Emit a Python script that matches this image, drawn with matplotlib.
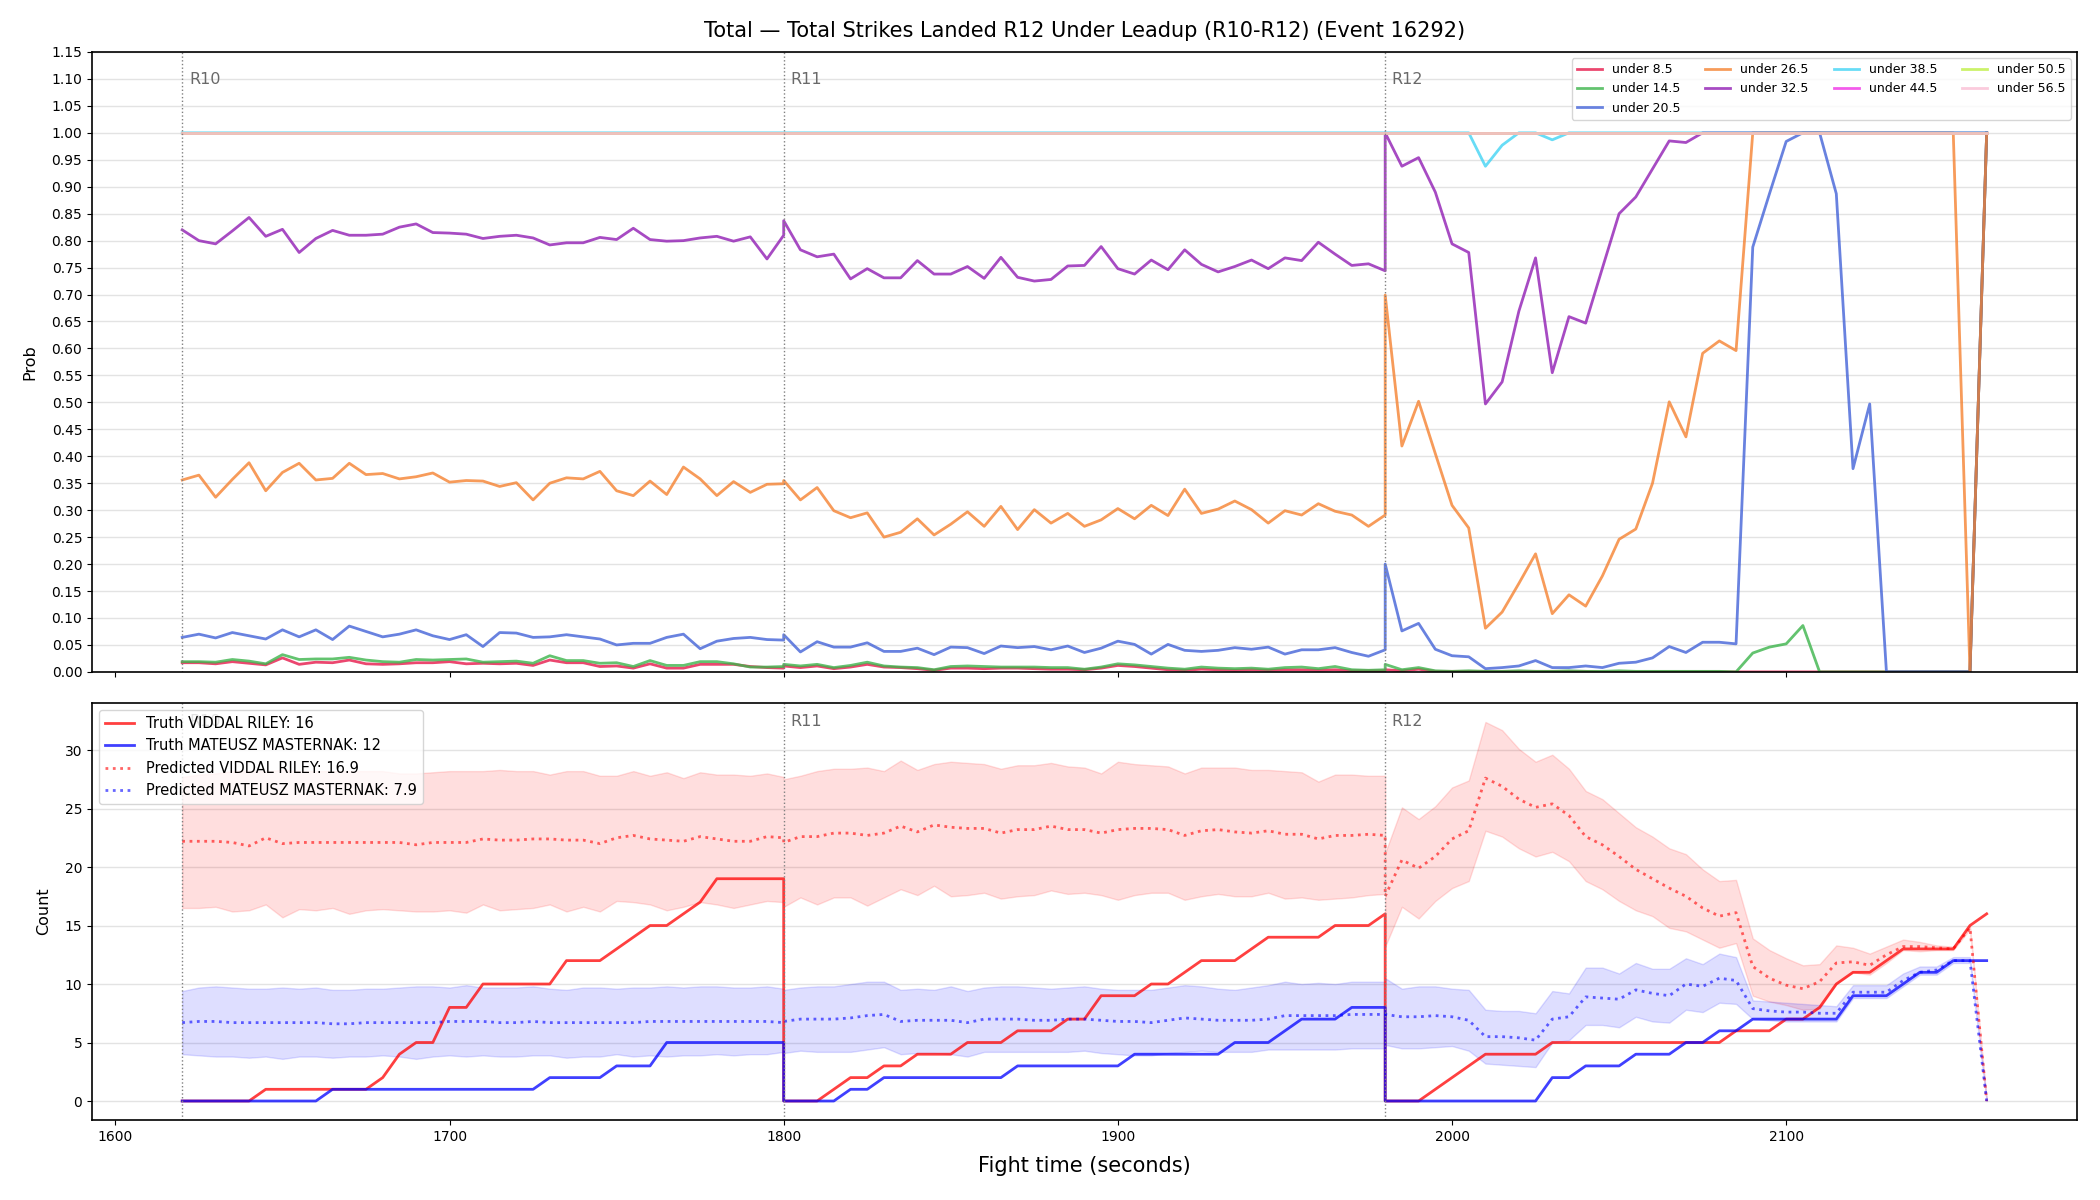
import numpy as np
import matplotlib.pyplot as plt
from matplotlib.transforms import blended_transform_factory

# rounds shown in the leadup window (5 s sampling, boundary time repeated)
round_names = ['R10', 'R11', 'R12']
round_starts = [1620, 1800, 1980]
round_len = 180
step = 5

# ---- top panel: P(total strikes under line) ----
under_8_5 = [
    .017, .017, .015, .019, .016, .013, .026, .014, .018, .017, .022, .015, .014, .015, .017, .017, .019, .015,
    .016, .015, .016, .012, .022, .017, .017, .010, .011, .007, .015, .007, .007, .014, .014, .014, .010, .008, .007,
    .011, .008, .011, .006, .009, .014, .009, .008, .006, .003, .007, .007, .006, .007, .007, .006, .005, .005,
    .004, .007, .012, .010, .007, .004, .003, .005, .004, .003, .004, .003, .004, .004, .003, .004, .002, .002, .002,
    .004, .002, .005, .001, .001, .001, .001, .001, .001, .001, .001, .001, .001, 0, 0, 0, 0, 0,
    0, 0, 0, 0, 0, 0, 0, 0, 0, 0, 0, 0, 0, 0, 0, 0, 0, 0, 1.0,
]
under_14_5 = [
    .019, .019, .018, .023, .020, .015, .032, .023, .024, .024, .027, .022, .019, .018, .023, .022, .023, .024,
    .018, .019, .020, .016, .030, .021, .021, .016, .017, .010, .021, .012, .012, .019, .019, .015, .009, .009, .010,
    .014, .011, .014, .008, .012, .018, .011, .009, .008, .004, .010, .011, .010, .009, .009, .009, .008, .008,
    .005, .009, .015, .013, .010, .007, .005, .009, .007, .006, .007, .005, .008, .009, .006, .010, .004, .003, .004,
    .014, .004, .008, .002, .001, .002, .001, .001, .002, .001, .001, .002, .001, .001, .002, .001, .001, .001,
    .001, .001, .001, 0, .035, .046, .052, .086, 0, 0, 0, 0, 0, 0, 0, 0, 0, 0, 1.0,
]
under_20_5 = [
    .064, .070, .063, .073, .067, .061, .078, .065, .078, .060, .085, .075, .065, .070, .078, .067, .060, .069,
    .047, .073, .072, .064, .065, .069, .065, .061, .050, .053, .053, .064, .070, .043, .057, .062, .064, .060, .059,
    .069, .037, .056, .046, .046, .054, .038, .038, .044, .032, .046, .045, .034, .048, .045, .047, .041, .048,
    .036, .044, .057, .051, .033, .051, .040, .038, .040, .045, .042, .046, .033, .041, .041, .045, .036, .029, .041,
    .200, .076, .090, .042, .030, .028, .006, .008, .011, .021, .008, .008, .011, .008, .016, .018, .026, .047,
    .036, .055, .055, .052, .788, .887, .984, 1.0, 1.0, .887, .377, .497, 0, 0, 0, 0, 0, 0, 1.0,
]
under_26_5 = [
    .356, .365, .324, .357, .388, .336, .370, .387, .356, .359, .387, .366, .368, .358, .362, .369, .352, .355,
    .354, .344, .351, .319, .350, .360, .358, .372, .336, .327, .354, .329, .380, .358, .327, .353, .333, .348, .349,
    .355, .319, .342, .299, .286, .295, .250, .259, .284, .254, .274, .297, .270, .307, .264, .301, .276, .294,
    .270, .282, .303, .284, .309, .290, .339, .294, .302, .317, .301, .276, .299, .291, .312, .298, .291, .270, .291,
    .699, .419, .502, .405, .309, .267, .081, .111, .164, .219, .108, .143, .122, .178, .246, .265, .350, .501,
    .436, .591, .614, .596, 1.0, 1.0, 1.0, 1.0, 1.0, 1.0, 1.0, 1.0, 1.0, 1.0, 1.0, 1.0, 1.0, 0.0, 1.0,
]
under_32_5 = [
    .820, .800, .794, .818, .843, .808, .821, .778, .804, .819, .810, .810, .812, .825, .831, .815, .814, .812,
    .804, .808, .810, .805, .792, .796, .796, .806, .802, .823, .802, .799, .800, .805, .808, .799, .807, .766, .810,
    .837, .783, .770, .775, .729, .748, .731, .731, .763, .738, .738, .752, .730, .769, .732, .725, .728, .753,
    .754, .789, .748, .738, .764, .746, .783, .756, .742, .752, .764, .748, .768, .763, .797, .775, .754, .757, .744,
    1.0, .938, .954, .890, .794, .778, .497, .538, .669, .768, .555, .659, .647, .749, .850, .881, .933, .985,
    .982, 1.0, 1.0, 1.0, 1.0, 1.0, 1.0, 1.0, 1.0, 1.0, 1.0, 1.0, 1.0, 1.0, 1.0, 1.0, 1.0, 1.0, 1.0,
]
under_38_5 = (
    [1.0] * 37 + [1.0] * 37
    + [1.0, 1.0, 1.0, 1.0, 1.0, 1.0, .938, .977, 1.0, 1.0, .987] + [1.0] * 26
)
under_44_5 = [1.0] * 111
under_50_5 = [1.0] * 111
under_56_5 = [1.0] * 111

prob_labels = ['under 8.5', 'under 14.5', 'under 20.5', 'under 26.5', 'under 32.5',
               'under 38.5', 'under 44.5', 'under 50.5', 'under 56.5']
prob_series = [under_8_5, under_14_5, under_20_5, under_26_5, under_32_5,
               under_38_5, under_44_5, under_50_5, under_56_5]
prob_colors = ['#e6194b', '#3cb44b', '#4363d8', '#f58231', '#911eb4',
               '#42d4f4', '#f032e6', '#bfef45', '#fabed4']

# ---- bottom panel: counts ----
fighter_a = 'VIDDAL RILEY'
fighter_b = 'MATEUSZ MASTERNAK'
final_truth_a, final_truth_b = 16, 12
final_pred_a, final_pred_b = 16.9, 7.9

truth_a = [
    0, 0, 0, 0, 0, 1, 1, 1, 1, 1, 1, 1, 2, 4, 5, 5, 8, 8, 10, 10, 10, 10, 10, 12, 12, 12, 13, 14, 15, 15, 16, 17,
    19, 19, 19, 19, 19,
    0, 0, 0, 1, 2, 2, 3, 3, 4, 4, 4, 5, 5, 5, 6, 6, 6, 7, 7, 9, 9, 9, 10, 10, 11, 12, 12, 12, 13, 14, 14, 14, 14,
    15, 15, 15, 16,
    0, 0, 0, 1, 2, 3, 4, 4, 4, 4, 5, 5, 5, 5, 5, 5, 5, 5, 5, 5, 5, 6, 6, 6, 7, 7, 8, 10, 11, 11, 12, 13, 13, 13,
    13, 15, 16,
]
truth_b = [
    0, 0, 0, 0, 0, 0, 0, 0, 0, 1, 1, 1, 1, 1, 1, 1, 1, 1, 1, 1, 1, 1, 2, 2, 2, 2, 3, 3, 3, 5, 5, 5, 5, 5, 5, 5, 5,
    0, 0, 0, 0, 1, 1, 2, 2, 2, 2, 2, 2, 2, 2, 3, 3, 3, 3, 3, 3, 3, 4, 4, 4, 4, 4, 4, 5, 5, 5, 6, 7, 7, 7, 8, 8, 8,
    0, 0, 0, 0, 0, 0, 0, 0, 0, 0, 2, 2, 3, 3, 3, 4, 4, 4, 5, 5, 6, 6, 7, 7, 7, 7, 7, 7, 9, 9, 9, 10, 11, 11, 12,
    12, 12,
]
pred_a = [
    22.2, 22.2, 22.2, 22.1, 21.8, 22.5, 22.0, 22.1, 22.1, 22.1, 22.1, 22.1, 22.1, 22.1, 21.9, 22.1, 22.1, 22.1,
    22.4, 22.3, 22.3, 22.4, 22.4, 22.3, 22.3, 22.0, 22.5, 22.7, 22.4, 22.3, 22.2, 22.6, 22.4, 22.2, 22.2, 22.6, 22.5,
    22.1, 22.6, 22.6, 22.9, 22.9, 22.7, 22.9, 23.5, 23.0, 23.6, 23.4, 23.3, 23.3, 22.9, 23.2, 23.2, 23.5, 23.2,
    23.2, 22.9, 23.2, 23.3, 23.3, 23.2, 22.7, 23.1, 23.2, 23.0, 22.9, 23.1, 22.8, 22.8, 22.4, 22.7, 22.7, 22.8, 22.7,
    17.5, 20.6, 19.9, 20.9, 22.4, 23.1, 27.6, 26.9, 25.8, 25.1, 25.4, 24.4, 22.6, 21.9, 20.9, 19.8, 19.0, 18.2,
    17.5, 16.5, 15.8, 16.1, 11.5, 10.5, 9.9, 9.6, 10.2, 11.8, 11.9, 11.6, 12.5, 13.2, 13.2, 13.1, 13.0, 14.8, 0.0,
]
pred_a_hi = [
    27.7, 27.9, 28.0, 28.2, 28.2, 28.2, 28.3, 28.2, 28.2, 28.2, 28.2, 28.2, 28.2, 28.0, 28.0, 28.1, 28.2, 28.2,
    28.2, 28.3, 28.2, 28.2, 27.9, 28.2, 28.2, 27.8, 27.8, 28.2, 27.8, 28.1, 27.6, 28.1, 27.9, 27.9, 27.8, 28.0, 27.7,
    27.5, 27.8, 28.2, 28.4, 28.4, 28.5, 28.2, 29.1, 28.3, 28.8, 29.0, 28.9, 28.8, 28.4, 28.7, 28.7, 28.9, 28.6,
    28.5, 28.0, 29.0, 28.8, 28.7, 28.6, 28.0, 28.5, 28.5, 28.5, 28.3, 28.3, 28.2, 28.1, 27.3, 27.9, 27.9, 27.8, 27.8,
    21.2, 25.1, 24.1, 25.2, 26.8, 27.4, 32.4, 31.7, 30.1, 29.0, 29.6, 28.4, 26.5, 25.8, 24.6, 23.4, 22.6, 21.6,
    21.1, 19.8, 18.8, 18.9, 13.9, 12.9, 12.2, 11.6, 11.7, 13.3, 13.1, 12.6, 13.2, 13.8, 13.6, 13.3, 13.2, 14.9, 0.0,
]
pred_a_lo = [
    16.5, 16.5, 16.6, 16.2, 16.3, 16.8, 15.7, 16.4, 16.3, 16.5, 16.0, 16.3, 16.4, 16.3, 16.2, 16.2, 16.3, 16.1,
    16.8, 16.3, 16.4, 16.5, 16.8, 16.2, 16.6, 16.2, 17.1, 17.0, 16.8, 16.3, 16.6, 17.0, 16.8, 16.5, 16.8, 17.1, 17.0,
    16.6, 17.4, 16.8, 17.4, 17.4, 16.7, 17.4, 18.1, 17.6, 18.4, 17.5, 17.6, 17.8, 17.3, 17.5, 17.6, 18.0, 17.7,
    17.8, 17.6, 17.2, 17.6, 17.8, 17.8, 17.2, 17.5, 17.7, 17.5, 17.5, 17.8, 17.3, 17.4, 17.2, 17.3, 17.4, 17.6, 17.7,
    13.2, 16.6, 15.6, 17.1, 18.2, 18.8, 23.1, 22.6, 21.6, 20.9, 21.3, 20.5, 18.8, 18.1, 17.1, 16.3, 15.8, 14.8,
    14.5, 13.8, 13.1, 13.5, 9.0, 8.5, 8.2, 7.8, 7.9, 10.0, 11.0, 10.8, 11.8, 12.9, 12.8, 12.9, 12.9, 14.7, 0.0,
]
pred_b = [
    6.7, 6.8, 6.8, 6.7, 6.7, 6.7, 6.7, 6.7, 6.7, 6.6, 6.6, 6.7, 6.7, 6.7, 6.7, 6.7, 6.8, 6.8, 6.8, 6.7, 6.7, 6.8,
    6.7, 6.7, 6.7, 6.7, 6.7, 6.7, 6.8, 6.8, 6.8, 6.8, 6.8, 6.8, 6.8, 6.8, 6.7,
    6.8, 7.0, 7.0, 7.0, 7.1, 7.3, 7.4, 6.8, 6.9, 6.9, 6.9, 6.7, 7.0, 7.0, 7.0, 6.9, 6.9, 7.0, 7.0, 6.9, 6.8, 6.8,
    6.7, 6.9, 7.1, 7.0, 6.9, 6.9, 6.9, 7.0, 7.3, 7.3, 7.3, 7.3, 7.4, 7.4, 7.4,
    7.4, 7.2, 7.2, 7.3, 7.2, 6.9, 5.5, 5.5, 5.4, 5.2, 7.0, 7.2, 8.9, 8.8, 8.7, 9.5, 9.2, 9.0, 10.0, 9.8, 10.5,
    10.3, 7.9, 7.7, 7.6, 7.6, 7.5, 7.5, 9.3, 9.3, 9.3, 10.3, 11.0, 11.2, 12.0, 12.0, 0.0,
]
pred_b_hi = [
    9.4, 9.7, 9.8, 9.7, 9.6, 9.6, 9.7, 9.6, 9.7, 9.5, 9.5, 9.6, 9.6, 9.7, 9.8, 9.8, 9.7, 9.9, 9.7, 9.7, 9.7, 9.8,
    9.6, 9.5, 9.7, 9.7, 9.6, 9.7, 9.7, 9.8, 9.7, 9.8, 9.8, 9.7, 9.7, 9.8, 9.6,
    9.5, 9.7, 9.8, 9.8, 10.0, 10.2, 10.2, 9.5, 9.6, 9.5, 9.8, 9.4, 9.7, 9.8, 9.8, 9.7, 9.6, 9.7, 9.8, 9.6, 9.5,
    9.5, 9.5, 9.7, 9.9, 9.8, 9.6, 9.5, 9.7, 9.9, 10.2, 10.0, 10.1, 10.0, 10.2, 10.2, 10.2,
    10.5, 9.6, 9.8, 9.8, 9.6, 9.5, 7.8, 7.7, 7.7, 7.5, 9.4, 9.2, 11.4, 11.4, 10.9, 11.8, 11.3, 11.3, 12.2, 11.7,
    12.6, 12.3, 8.6, 8.5, 8.4, 8.3, 8.2, 8.1, 9.9, 9.9, 9.9, 10.9, 11.5, 11.5, 12.3, 12.3, 0.0,
]
pred_b_lo = [
    4.0, 3.9, 3.8, 3.8, 3.7, 3.8, 3.6, 3.8, 3.8, 3.7, 3.8, 3.8, 3.9, 3.8, 3.6, 3.8, 3.9, 3.8, 3.9, 3.8, 3.8, 3.9,
    3.9, 3.7, 3.8, 3.8, 4.0, 3.8, 3.9, 3.8, 3.9, 3.9, 4.0, 3.9, 4.0, 4.0, 4.2,
    4.1, 4.3, 4.2, 4.2, 4.2, 4.4, 4.6, 4.0, 4.1, 4.1, 4.0, 3.8, 4.2, 4.2, 4.2, 4.2, 4.2, 4.2, 4.3, 4.1, 4.0, 3.9,
    3.9, 4.1, 4.2, 4.3, 4.2, 4.2, 4.2, 4.4, 4.4, 4.4, 4.4, 4.4, 4.5, 4.5, 4.5,
    4.8, 4.5, 4.5, 4.6, 4.7, 4.3, 3.2, 3.1, 3.0, 2.9, 5.0, 5.2, 6.5, 6.5, 6.3, 7.2, 6.8, 6.7, 7.8, 7.6, 8.4, 8.3,
    7.0, 6.9, 6.8, 6.8, 6.8, 6.8, 8.8, 8.8, 8.8, 9.8, 10.8, 10.8, 11.8, 11.8, 0.0,
]

t = np.concatenate([np.arange(s, s + round_len + 1, step) for s in round_starts])

fig, (ax1, ax2) = plt.subplots(2, 1, figsize=(21, 12), dpi=100, sharex=True,
                               gridspec_kw={'height_ratios': [620, 417]})
fig.subplots_adjust(left=0.0438, right=0.989, top=0.9567, bottom=0.0667, hspace=0.06)

# top panel
for label, vals, color in zip(prob_labels, prob_series, prob_colors):
    ax1.plot(t, vals, color=color, lw=2, alpha=0.8, label=label)
ax1.set_ylim(0, 1.15)
ax1.set_yticks(np.arange(0, 1.151, 0.05))
ax1.set_ylabel('Prob', fontsize=11.5, labelpad=10)
ax1.legend(loc='upper right', ncol=4, fontsize=9)
ax1.set_title('Total \u2014 Total Strikes Landed R12 Under Leadup (R10-R12) (Event 16292)',
              fontsize=15, pad=11)

# bottom panel
ax2.fill_between(t, pred_a_lo, pred_a_hi, color='red', alpha=0.13)
ax2.fill_between(t, pred_b_lo, pred_b_hi, color='blue', alpha=0.13)
ax2.plot(t, truth_a, color='red', lw=2, alpha=0.75, label=f'Truth {fighter_a}: {final_truth_a}')
ax2.plot(t, truth_b, color='blue', lw=2, alpha=0.75, label=f'Truth {fighter_b}: {final_truth_b}')
ax2.plot(t, pred_a, color='red', lw=2, ls=':', alpha=0.6, label=f'Predicted {fighter_a}: {final_pred_a}')
ax2.plot(t, pred_b, color='blue', lw=2, ls=':', alpha=0.6, label=f'Predicted {fighter_b}: {final_pred_b}')
ax2.set_ylabel('Count', fontsize=11.5, labelpad=10)
ax2.set_xlabel('Fight time (seconds)', fontsize=15, labelpad=9)
ax2.legend(loc='upper left', fontsize=10.5)

for ax in (ax1, ax2):
    trans = blended_transform_factory(ax.transData, ax.transAxes)
    for name, start in zip(round_names, round_starts):
        ax.axvline(start, color='gray', ls=':', lw=1)
        ax.text(start + 2, 0.955, name, transform=trans, color='dimgray', fontsize=11.5, va='center')
    ax.grid(axis='y', color='#e3e3e3', lw=1)
    ax.set_axisbelow(True)
    for sp in ax.spines.values():
        sp.set_linewidth(1.2)

fig.savefig('out.png', dpi=100)
